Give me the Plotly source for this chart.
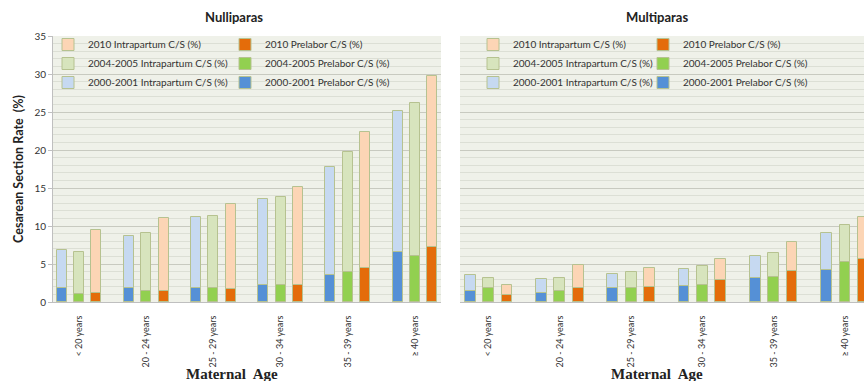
import plotly.graph_objects as go

age_groups = ["< 20 years", "20 - 24 years", "25 - 29 years", "30 - 34 years", "35 - 39 years", "\u2265 40 years"]
periods = ["2000-2001", "2004-2005", "2010"]

# Nulliparas
nulli_prelabor = {
    "2000-2001": [1.9, 1.8, 1.9, 2.3, 3.6, 6.6],
    "2004-2005": [1.1, 1.5, 1.9, 2.3, 3.9, 6.1],
    "2010":      [1.2, 1.4, 1.7, 2.3, 4.5, 7.2],
}
nulli_intrapartum = {
    "2000-2001": [5.0, 6.9, 9.3, 11.2, 14.1, 18.5],
    "2004-2005": [5.5, 7.6, 9.4, 11.5, 15.9, 20.1],
    "2010":      [8.3, 9.7, 11.2, 12.8, 17.9, 22.5],
}
# Multiparas
multi_prelabor = {
    "2000-2001": [1.4, 1.2, 1.8, 2.1, 3.1, 4.2],
    "2004-2005": [1.9, 1.5, 1.8, 2.3, 3.3, 5.2],
    "2010":      [0.9, 1.8, 2.0, 2.9, 4.1, 5.7],
}
multi_intrapartum = {
    "2000-2001": [2.1, 1.8, 1.9, 2.2, 2.9, 4.9],
    "2004-2005": [1.3, 1.7, 2.1, 2.4, 3.1, 4.9],
    "2010":      [1.3, 3.1, 2.5, 2.8, 3.8, 5.5],
}

y_ticks = [0, 5, 10, 15, 20, 25, 30, 35]

dark = {"2000-2001": "#5590d6", "2004-2005": "#92d050", "2010": "#e46c0a"}
light = {"2000-2001": "#c6d9f1", "2004-2005": "#d7e4bd", "2010": "#fcd5b5"}
border = "#b6c290"
centers = {"2000-2001": -0.257, "2004-2005": 0.0, "2010": 0.257}
bw = 0.15
rank = {"2010": 1, "2004-2005": 2, "2000-2001": 3}

font_main = "Lato, 'Open Sans', sans-serif"

fig = go.Figure()

panels = [
    ("x", "y", nulli_prelabor, nulli_intrapartum, "legend", "legend2"),
    ("x2", "y2", multi_prelabor, multi_intrapartum, "legend3", "legend4"),
]
for xa, ya, pre, intra, lg_i, lg_p in panels:
    for p in periods:
        off = centers[p] - bw / 2
        fig.add_trace(go.Bar(
            x=age_groups, y=pre[p], xaxis=xa, yaxis=ya,
            name=f"{p} Prelabor C/S (%)", legend=lg_p, legendrank=rank[p],
            marker=dict(color=dark[p], line=dict(color=border, width=1)),
            width=bw, offset=off, hoverinfo="x+y+name",
        ))
        fig.add_trace(go.Bar(
            x=age_groups, y=intra[p], base=pre[p], xaxis=xa, yaxis=ya,
            name=f"{p} Intrapartum C/S (%)", legend=lg_i, legendrank=rank[p],
            marker=dict(color=light[p], line=dict(color=border, width=1)),
            width=bw, offset=off, hoverinfo="x+y+name",
        ))

W, H = 864, 381
ml, mr, mt, mb = 53, 0, 36, 79
pw = W - ml - mr
ph = H - mt - mb

def px_x(v):
    return (v - ml) / pw

def px_y(v):
    return 1 - (v - mt) / ph

legend_font = dict(family=font_main, size=10, color="#333333")
legend_common = dict(orientation="v", bgcolor="rgba(0,0,0,0)", font=legend_font,
                     xanchor="left", yanchor="top", traceorder="normal",
                     tracegroupgap=0, itemclick=False, itemdoubleclick=False)
legend_top = px_y(30)

xaxis_common = dict(
    type="category", showgrid=False, tickangle=-90, automargin=False,
    tickfont=dict(family=font_main, size=9, color="#333333"),
    showline=True, linecolor="#bfbfbf", ticks="", ticklabelstandoff=9,
    zeroline=False,
)
yaxis_common = dict(
    range=[0, 35], tickvals=y_ticks, showgrid=True, gridcolor="#c8cac0", gridwidth=1,
    minor=dict(dtick=1, showgrid=True, gridcolor="#dcdfd5", gridwidth=1),
    zeroline=False, fixedrange=True, automargin=False,
)

title_font = dict(family=font_main, size=13, color="#222222")
age_font = dict(family="'Liberation Serif', 'Times New Roman', serif", size=15, color="#222222")

def label(text, x, y, font):
    return dict(text=text, xref="paper", yref="paper", x=px_x(x), y=px_y(y),
                xanchor="center", yanchor="middle", showarrow=False, font=font)

fig.update_layout(
    width=W, height=H,
    margin=dict(l=ml, r=mr, t=mt, b=mb, autoexpand=False),
    paper_bgcolor="white", plot_bgcolor="#eff1e9",
    barmode="overlay", bargap=0,
    xaxis=dict(domain=[0, px_x(441)], range=[-0.39, 5.39], **xaxis_common),
    xaxis2=dict(domain=[px_x(460), 1], range=[-0.4, 5.265], anchor="y2", **xaxis_common),
    yaxis=dict(
        domain=[0, 1], anchor="x", showline=True, linecolor="#bfbfbf",
        ticks="outside", ticklen=4, tickcolor="#bfbfbf",
        tickfont=dict(family=font_main, size=10, color="#333333"),
        title=dict(text="<b>Cesarean Section Rate  (%)</b>", standoff=8,
                   font=dict(family=font_main, size=12.5, color="#222222")),
        **yaxis_common,
    ),
    yaxis2=dict(domain=[0, 1], anchor="x2", showticklabels=False, showline=False,
                matches="y", **yaxis_common),
    legend=dict(x=px_x(48), y=legend_top, **legend_common),
    legend2=dict(x=px_x(225), y=legend_top, **legend_common),
    legend3=dict(x=px_x(473), y=legend_top, **legend_common),
    legend4=dict(x=px_x(643), y=legend_top, **legend_common),
    annotations=[
        label("<b>Nulliparas</b>", 234, 17, title_font),
        label("<b>Multiparas</b>", 657, 17, title_font),
        label("<b>Maternal  Age</b>", 232, 374, age_font),
        label("<b>Maternal  Age</b>", 657, 374, age_font),
    ],
    showlegend=True,
)

fig.write_html("out.html", config={"displayModeBar": False},
               post_script="document.body.style.margin='0';")
